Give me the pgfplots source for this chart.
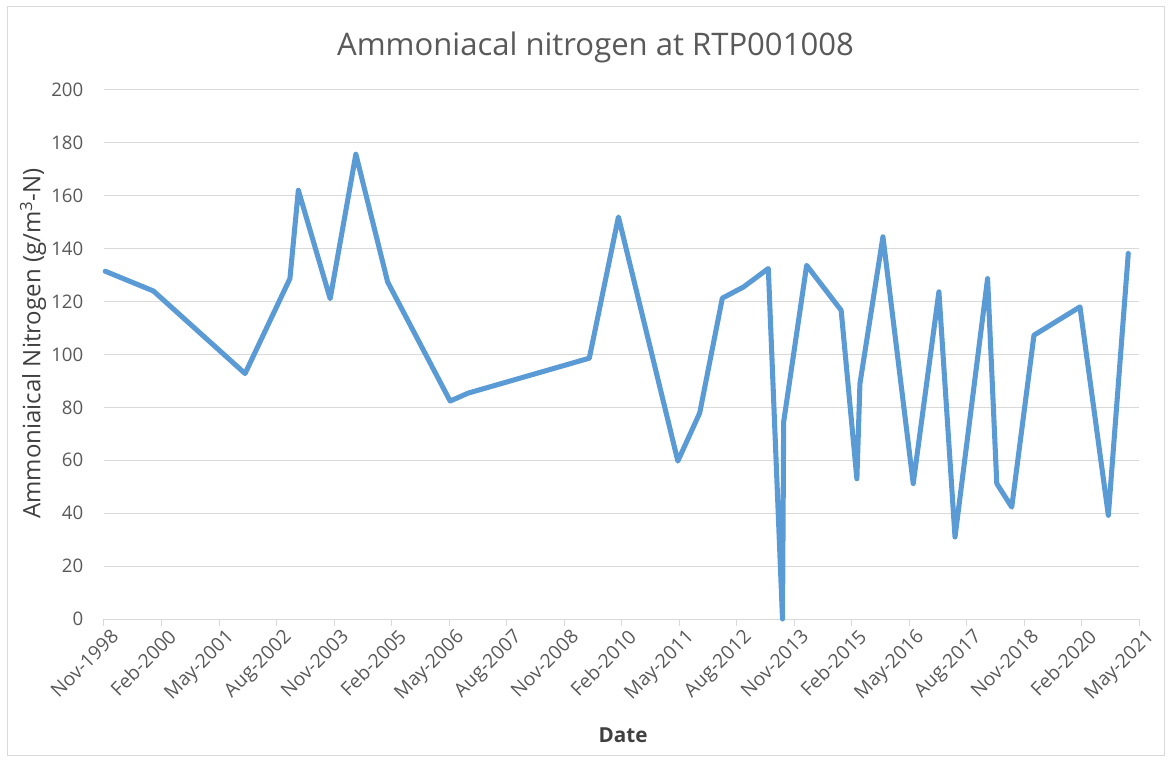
\documentclass[border=0pt]{standalone}
\usepackage{pgfplots}
\pgfplotsset{compat=1.18}
\usepackage{fontspec}
\setmainfont{Open Sans}
\definecolor{exblue}{HTML}{5B9BD5}
\definecolor{gridgray}{HTML}{D9D9D9}
\definecolor{txtgray}{HTML}{595959}
\definecolor{lblgray}{HTML}{404040}
\begin{document}
\begin{tikzpicture}
\path[use as bounding box] (-78pt,-108pt) rectangle (801.75pt,464.25pt);
\draw[gridgray, line width=0.75pt] (-72pt,-102pt) rectangle (795pt,459pt);
\begin{axis}[
  at={(0pt,0pt)}, anchor=south west,
  scale only axis, width=776.25pt, height=396.75pt,
  xmin=0, xmax=270, ymin=0, ymax=200,
  xtick={0,15,...,270},
  xticklabels={Nov-1998,Feb-2000,May-2001,Aug-2002,Nov-2003,Feb-2005,May-2006,Aug-2007,Nov-2008,Feb-2010,May-2011,Aug-2012,Nov-2013,Feb-2015,May-2016,Aug-2017,Nov-2018,Feb-2020,May-2021},
  ytick={0,20,...,200},
  ymajorgrids, grid style={gridgray, line width=0.75pt},
  axis x line*=bottom, axis y line*=left,
  x axis line style={gridgray, line width=0.75pt, -},
  y axis line style={draw=none},
  xtick style={gridgray, line width=0.75pt},
  tick align=outside, major tick length=5pt,
  ytick style={draw=none},
  xticklabel style={rotate=45, anchor=north east, font=\fontsize{14.5}{16}\selectfont, text=txtgray, inner sep=1pt, xshift=3pt, yshift=-3pt},
  yticklabel style={font=\fontsize{14}{16}\selectfont, text=txtgray, anchor=east, xshift=-7pt},
  /pgf/number format/assume math mode=true,
  clip=false,
]
\addplot[exblue, line width=3.8pt, line join=round, line cap=round] coordinates {
(0.3,131.5)
(12.9,124.0)
(36.8,92.8)
(48.5,128.7)
(50.7,162.1)
(59.0,121.1)
(65.7,175.7)
(74.0,127.4)
(90.3,82.4)
(95.0,85.4)
(126.6,98.6)
(134.2,152.0)
(149.7,59.7)
(155.4,77.9)
(161.3,121.3)
(166.8,125.5)
(173.3,132.5)
(177.0,0)
(177.3,74.5)
(183.3,133.7)
(192.3,116.7)
(196.4,53.0)
(197.2,89.0)
(203.2,144.5)
(211.1,51.2)
(217.8,123.7)
(222.0,31.0)
(230.5,128.7)
(232.9,51.2)
(236.8,42.3)
(242.6,107.3)
(254.6,118.0)
(262.0,39.2)
(267.2,138.2)
};
\end{axis}
\node[text=txtgray, font=\fontsize{23.3}{27}\selectfont] at (368.6pt,429pt) {Ammoniacal nitrogen at RTP001008};
\node[text=lblgray, rotate=90, font=\fontsize{18}{21}\selectfont] at (-53.25pt,206.6pt) {Ammoniaical Nitrogen (g/m\textsuperscript{3}-N)};
\node[text=lblgray, font=\fontsize{15.5}{18}\selectfont\bfseries] at (389.25pt,-87pt) {Date};
\end{tikzpicture}
\end{document}
